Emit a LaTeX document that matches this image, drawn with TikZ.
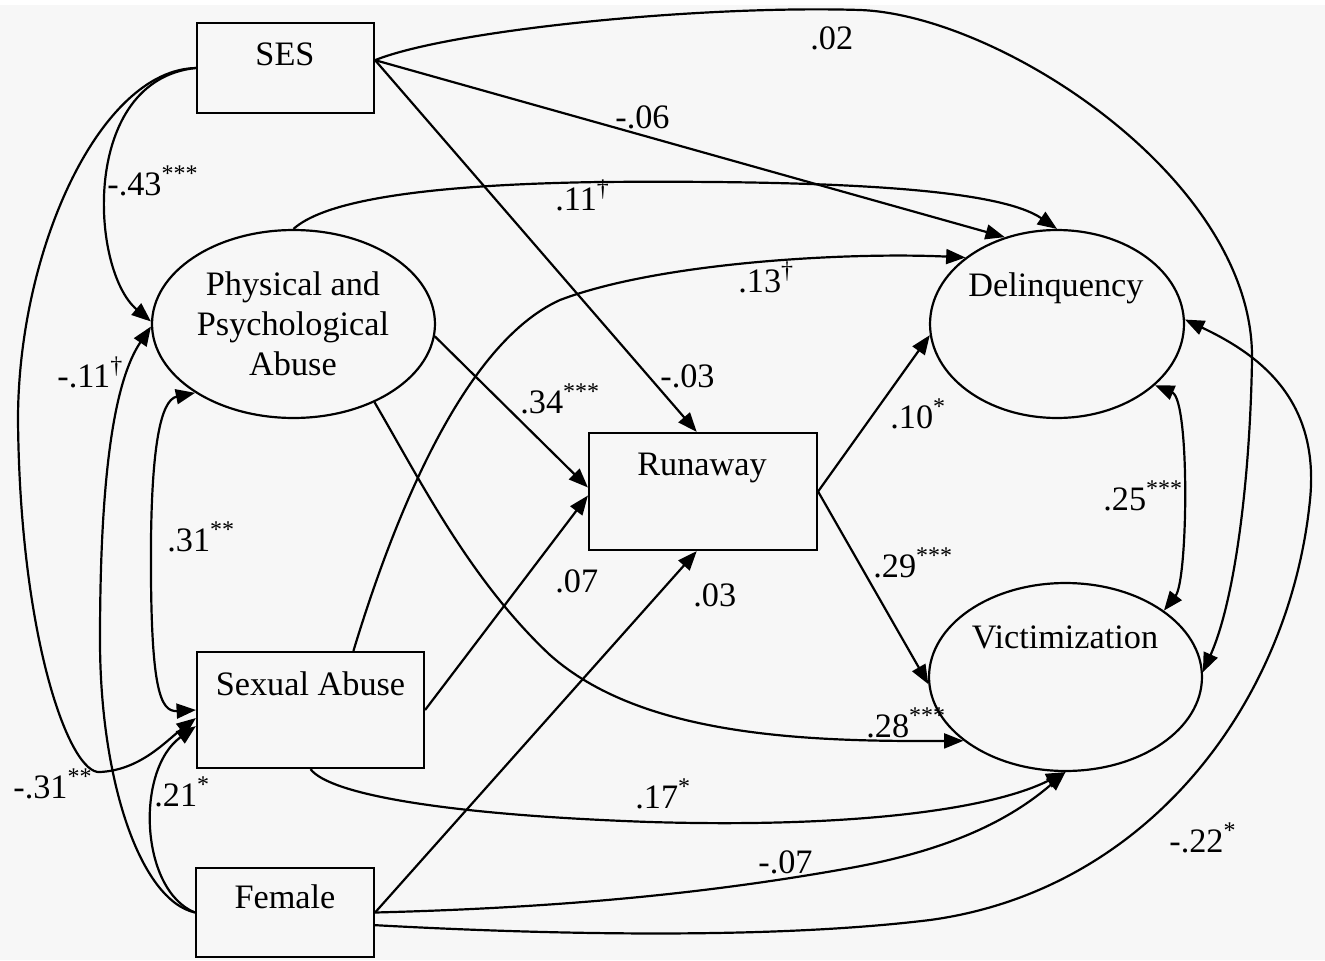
\documentclass[tikz,border=0pt]{standalone}
\usepackage{fontspec}
\setmainfont{Liberation Serif}
\usetikzlibrary{arrows.meta,shapes.geometric}
\definecolor{bg}{RGB}{247,247,247}
\newcommand\myss[1]{\textsuperscript{#1}}
\begin{document}
\begin{tikzpicture}[x=0.02cm,y=-0.02cm,
  every node/.style={font=\fontsize{19.5pt}{23pt}\selectfont},
  boxnode/.style={draw, line width=1.25pt, rectangle, inner sep=0pt},
  ellnode/.style={draw, line width=1.25pt, ellipse, inner sep=0pt},
  txt/.style={anchor=base, inner sep=0pt},
  lbl/.style={anchor=base west, inner sep=0pt},
  conn/.style={line width=1.25pt, -{Triangle[length=11pt,width=8.5pt]}},
  bicon/.style={line width=1.25pt, {Triangle[length=11pt,width=8.5pt]}-{Triangle[length=11pt,width=8.5pt]}},
]
\useasboundingbox (0,0) rectangle (1325,960);
\fill[white] (0,0) rectangle (1325,960);
\fill[bg] (0,5) rectangle (1325,960);

% shapes
\node[boxnode, minimum width=3.54cm, minimum height=1.8cm] (ses) at (285.5,68) {};
\node[ellnode, minimum width=5.66cm, minimum height=3.76cm] (phys) at (293.5,324) {};
\node[boxnode, minimum width=4.54cm, minimum height=2.32cm] (sex) at (310.5,710) {};
\node[boxnode, minimum width=3.56cm, minimum height=1.78cm] (fem) at (285,912.5) {};
\node[boxnode, minimum width=4.56cm, minimum height=2.34cm] (run) at (703,491.5) {};
\node[ellnode, minimum width=5.08cm, minimum height=3.76cm] (del) at (1057,324) {};
\node[ellnode, minimum width=5.46cm, minimum height=3.76cm] (vic) at (1065.5,677) {};

% node texts
\node[txt] (sesT) at (285,65) {SES};
\node[txt] (physT1) at (293,295) {Physical and};
\node[txt] (physT2) at (293,335) {Psychological};
\node[txt] (physT3) at (293,375) {Abuse};
\node[txt] (sexT) at (310.5,695) {Sexual Abuse};
\node[txt] (femT) at (285,908) {Female};
\node[txt] (runT) at (702,475) {Runaway};
\node[txt] (delT) at (1056,296) {Delinquency};
\node[txt] (vicT) at (1065,648) {Victimization};

% connectors
\draw[conn] (ses.5) -- (del.121);
\draw[conn] (ses.5) -- (run.96);
\draw[conn] (ses.5) .. controls (450,30) and (700,5) .. (860,10)
  .. controls (1000,15) and (1255,180) .. (1252,360)
  .. controls (1250,480) and (1235,600) .. (vic.2);
\draw[conn] (ses.west) .. controls (80,80) and (90,270) .. (phys.179);
\draw[conn] (ses.west) .. controls (100,70) and (18,250) .. (18,420)
  .. controls (20,640) and (70,775) .. (100,772)
  .. controls (140,770) and (165,742) .. (sex.184);
\draw[conn] (fem.west) .. controls (140,900) and (100,780) .. (100,640)
  .. controls (100,470) and (115,380) .. (phys.181);
\draw[conn] (fem.west) .. controls (140,890) and (135,770) .. (sex.188);
\draw[bicon] (phys.215) .. controls (160,400) and (152,450) .. (151,540)
  .. controls (150,690) and (160,712) .. (sex.west);
\draw[conn] (phys.-5) -- (run.178);
\draw[conn] (phys.-44) .. controls (420,480) and (470,580) .. (550,655)
  .. controls (640,735) and (800,742) .. (vic.212);
\draw[conn] (phys.north) .. controls (320,205) and (400,185) .. (600,182)
  .. controls (850,180) and (1000,190) .. (del.north);
\draw[conn] (sex.54) .. controls (390,530) and (460,345) .. (560,300)
  .. controls (660,262) and (850,252) .. (del.144);
\draw[conn] (sex.east) -- (run.182);
\draw[conn] (fem.east) -- (run.264);
\draw[conn] (sex.south) .. controls (330,795) and (450,815) .. (650,822)
  .. controls (850,828) and (990,810) .. (vic.south);
\draw[conn] (fem.east) .. controls (550,908) and (700,895) .. (850,868)
  .. controls (950,850) and (1010,820) .. (vic.south);
\draw[conn] (fem.-8) .. controls (500,932) and (750,942) .. (930,920)
  .. controls (1150,890) and (1290,700) .. (1310,500)
  .. controls (1320,400) and (1260,355) .. (del.2);
\draw[conn] (run.east) -- (del.185);
\draw[conn] (run.east) -- (vic.183);
\draw[bicon] (del.-32) .. controls (1190,400) and (1188,580) .. (vic.34);

% labels
\node[lbl] (l02) at (810,50) {.02};
\node[lbl] (l06) at (615,128) {-.06};
\node[lbl] (l43) at (107,195) {-.43\myss{***}};
\node[lbl] (l11) at (555,210) {.11\myss{\textdagger}};
\node[lbl] (l13) at (738,292) {.13\myss{\textdagger}};
\node[lbl] (lm11) at (57,387) {-.11\myss{\textdagger}};
\node[lbl] (l31) at (167,551) {.31\myss{**}};
\node[lbl] (lm31) at (13,798) {-.31\myss{**}};
\node[lbl] (l21) at (154,806) {.21\myss{*}};
\node[lbl] (lm03) at (660,387) {-.03};
\node[lbl] (l34) at (520,413) {.34\myss{***}};
\node[lbl] (l07) at (555,592) {.07};
\node[lbl] (l03) at (693,606) {.03};
\node[lbl] (l10) at (890,428) {.10\myss{*}};
\node[lbl] (l25) at (1103,510) {.25\myss{***}};
\node[lbl] (l29) at (873,577) {.29\myss{***}};
\node[lbl] (l28) at (866,737) {.28\myss{***}};
\node[lbl] (l17) at (635,808) {.17\myss{*}};
\node[lbl] (lm07) at (758,873) {-.07};
\node[lbl] (l22) at (1169,852) {-.22\myss{*}};
\end{tikzpicture}
\end{document}
